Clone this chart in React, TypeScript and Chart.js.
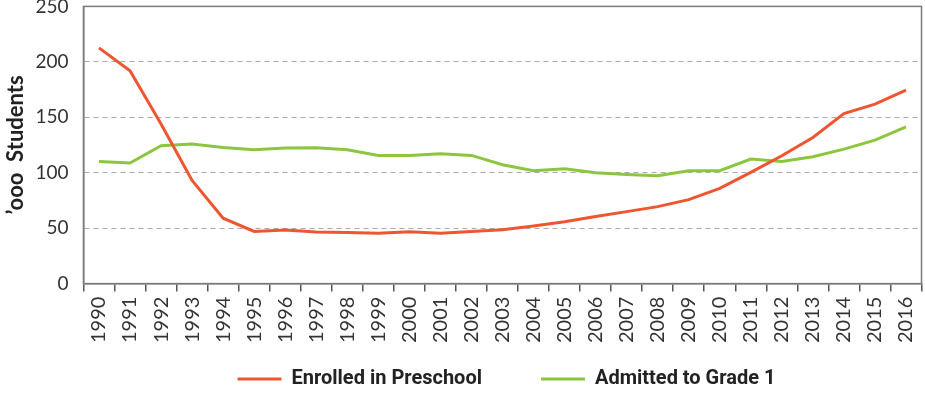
import React, { useEffect, useRef } from "react";
import { Chart, registerables } from "chart.js";

Chart.register(...registerables);

const years = ["1990","1991","1992","1993","1994","1995","1996","1997","1998","1999","2000","2001","2002","2003","2004","2005","2006","2007","2008","2009","2010","2011","2012","2013","2014","2015","2016"];
const preschool = [212.6,192,144,93,59,47,48.3,46.5,46,45.3,46.8,45.3,47,48.6,52,55.8,60.6,64.9,69.4,75.7,85.9,100.3,115.3,131.8,153.4,161.9,174.5];
const grade1 = [110.2,108.7,124.3,125.8,122.8,120.7,122.2,122.5,120.7,115.6,115.6,117.1,115.6,107.2,101.8,103.6,100,98.5,97.3,101.8,101.8,112.3,110.2,114.4,121.3,129.4,141.4];
const yTicks = [0, 50, 100, 150, 200, 250];

const SHIFT_Y = 20;
const CANVAS_W = 935;
const CANVAS_H = 393 + SHIFT_Y;

const boxPlugin = {
  id: "box",
  afterDraw(chart: any) {
    const { ctx, chartArea } = chart;
    ctx.save();
    ctx.strokeStyle = "#7a7a7a";
    ctx.lineWidth = 1.5;
    ctx.strokeRect(chartArea.left, chartArea.top, chartArea.right - chartArea.left, chartArea.bottom - chartArea.top);
    ctx.restore();
  },
};

const legendPlugin = {
  id: "customLegend",
  afterDraw(chart: any) {
    const { ctx, chartArea } = chart;
    const items = chart.data.datasets.map((d: any) => ({ text: d.label, color: d.borderColor }));
    const lineW = 44, gapText = 10, gapItem = 59;
    ctx.save();
    ctx.font = "bold 20px Roboto, sans-serif";
    const widths = items.map((it: any) => lineW + gapText + ctx.measureText(it.text).width);
    const total = widths.reduce((a: number, b: number) => a + b, 0) + gapItem * (items.length - 1);
    let x = (chartArea.left + chartArea.right) / 2 + 4 - total / 2;
    const y = CANVAS_H - 14;
    items.forEach((it: any, i: number) => {
      ctx.fillStyle = it.color;
      ctx.fillRect(x, y - 1.5, lineW, 3);
      ctx.fillStyle = "#222";
      ctx.textBaseline = "middle";
      ctx.textAlign = "left";
      ctx.fillText(it.text, x + lineW + gapText, y);
      x += widths[i] + gapItem;
    });
    ctx.restore();
  },
};

export default function App() {
  const ref = useRef<HTMLCanvasElement>(null);
  useEffect(() => {
    document.body.style.margin = "0";
    const chart = new Chart(ref.current!, {
      type: "line",
      data: {
        labels: years,
        datasets: [
          { label: "Enrolled in Preschool", data: preschool, borderColor: "#EE5530", backgroundColor: "#EE5530", borderWidth: 3, pointRadius: 0, tension: 0 },
          { label: "Admitted to Grade 1", data: grade1, borderColor: "#8CC63F", backgroundColor: "#8CC63F", borderWidth: 3, pointRadius: 0, tension: 0 },
        ],
      },
      options: {
        animation: false,
        responsive: false,
        maintainAspectRatio: false,
        layout: { padding: { top: 0, right: 0, left: 3, bottom: 45 } },
        plugins: {
          tooltip: { enabled: false },
          legend: { display: false },
        },
        scales: {
          x: {
            offset: true,
            grid: { offset: true, drawOnChartArea: false, drawTicks: true, tickLength: 8, color: "#555", lineWidth: 1.5 },
            border: { color: "#7a7a7a", width: 1.5 },
            ticks: { minRotation: 90, maxRotation: 90, autoSkip: false, color: "#333", padding: 5, font: { family: "Lato, sans-serif", size: 20 } },
          },
          y: {
            min: 0,
            max: 250,
            afterBuildTicks: (axis: any) => { axis.ticks = yTicks.map((v) => ({ value: v })); },
            grid: {
              color: (c: any) => (c.tick && (c.tick.value === 0 || c.tick.value === 250) ? "rgba(0,0,0,0)" : "#aaaaaa"),
              lineWidth: 1,
              drawTicks: false,
            },
            border: { color: "#7a7a7a", width: 1.5, dash: [5, 4] },
            ticks: { color: "#333", padding: 15, font: { family: "Lato, sans-serif", size: 19 } },
            title: { display: true, text: "’ooo  Students", color: "#222", padding: { top: 0, bottom: -9 }, font: { family: "Lato, sans-serif", size: 22, weight: "bold" } },
          },
        },
      },
      plugins: [boxPlugin, legendPlugin],
    });
    return () => chart.destroy();
  }, []);
  return (
    <div style={{ width: 925, height: 393, overflow: "hidden", position: "relative" }}>
      <canvas ref={ref} width={CANVAS_W} height={CANVAS_H} style={{ display: "block", position: "absolute", left: 0, top: -SHIFT_Y }} />
    </div>
  );
}
